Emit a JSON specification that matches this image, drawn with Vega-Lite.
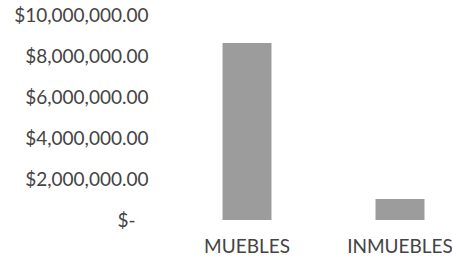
{
  "$schema": "https://vega.github.io/schema/vega-lite/v6.json",
  "autosize": {"type": "none"},
  "padding": {"left": 160, "top": 15, "right": 0, "bottom": 40},
  "width": 292,
  "height": 205,
  "background": "white",
  "data": {"values": [
    {"categoria": "MUEBLES", "monto": 8630000},
    {"categoria": "INMUEBLES", "monto": 1020000}
  ]},
  "mark": {"type": "bar", "color": "#9c9c9c"},
  "encoding": {
    "x": {
      "field": "categoria", "type": "nominal", "sort": null,
      "scale": {"range": [10.5, 316.5], "paddingInner": 0.68, "paddingOuter": 0.34},
      "axis": {"title": null, "labelAngle": 0, "domain": false, "ticks": false, "labelPadding": 17,
               "labelFont": "Lato", "labelFontSize": 19, "labelColor": "#444444"}
    },
    "y": {
      "field": "monto", "type": "quantitative",
      "scale": {"domain": [0, 10000000], "nice": false},
      "axis": {"title": null, "values": [0, 2000000, 4000000, 6000000, 8000000, 10000000],
               "labelExpr": "datum.value == 0 ? '$-' : '$' + format(datum.value, ',.2f')",
               "grid": false, "domain": false, "ticks": false,
               "labelPadding": {"condition": {"test": "datum.value == 0", "value": 25}, "value": 12},
               "labelFont": "Lato", "labelFontSize": 19, "labelColor": "#444444"}
    }
  },
  "config": {"view": {"stroke": null}}
}
